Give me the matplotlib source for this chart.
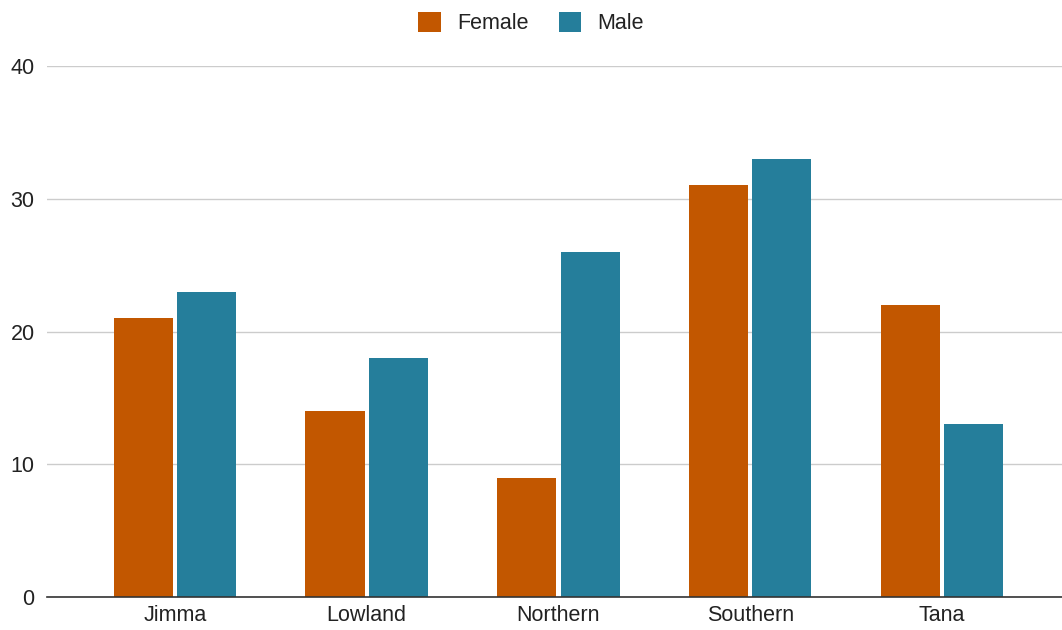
import numpy as np
import matplotlib.pyplot as plt

plt.rcParams['font.family'] = ['Liberation Sans', 'DejaVu Sans']

# Data
regions = ['Jimma', 'Lowland', 'Northern', 'Southern', 'Tana']
female = [21, 14, 9, 31, 22]
male = [23, 18, 26, 33, 13]

female_color = '#c25700'
male_color = '#257e9b'

fig = plt.figure(figsize=(10.62, 6.30), dpi=100)
ax = fig.add_axes([47 / 1062, 33 / 630, 1 - 47 / 1062, (597 - 66) / 630])

x = np.arange(len(regions))
w = 0.308
gap = 0.011
ax.bar(x - w / 2 - gap, female, width=w, color=female_color, label='Female', zorder=3)
ax.bar(x + w / 2 + gap, male, width=w, color=male_color, label='Male', zorder=3)

ax.set_xlim(-0.667, 4.626)
ax.set_ylim(0, 40)
ax.set_yticks([0, 10, 20, 30, 40])
ax.set_xticks(x)
ax.set_xticklabels(regions)
ax.tick_params(axis='both', length=0, labelsize=15.5, colors='#222222')
ax.tick_params(axis='y', pad=9)
ax.tick_params(axis='x', pad=6)

ax.grid(axis='y', color='#cccccc', linewidth=1, zorder=0)
for s in ['top', 'right', 'left']:
    ax.spines[s].set_visible(False)
ax.spines['bottom'].set_color('#333333')
ax.spines['bottom'].set_linewidth(1.2)
ax.spines['bottom'].set_zorder(4)

fig.legend(loc='upper center', bbox_to_anchor=(0.5, 1.012), ncol=2, frameon=False,
           fontsize=15.5, handlelength=1.05, handleheight=1.05, columnspacing=1.4,
           handletextpad=0.75, labelcolor='#222222')

fig.savefig('out.png', dpi=100)
plt.close()
